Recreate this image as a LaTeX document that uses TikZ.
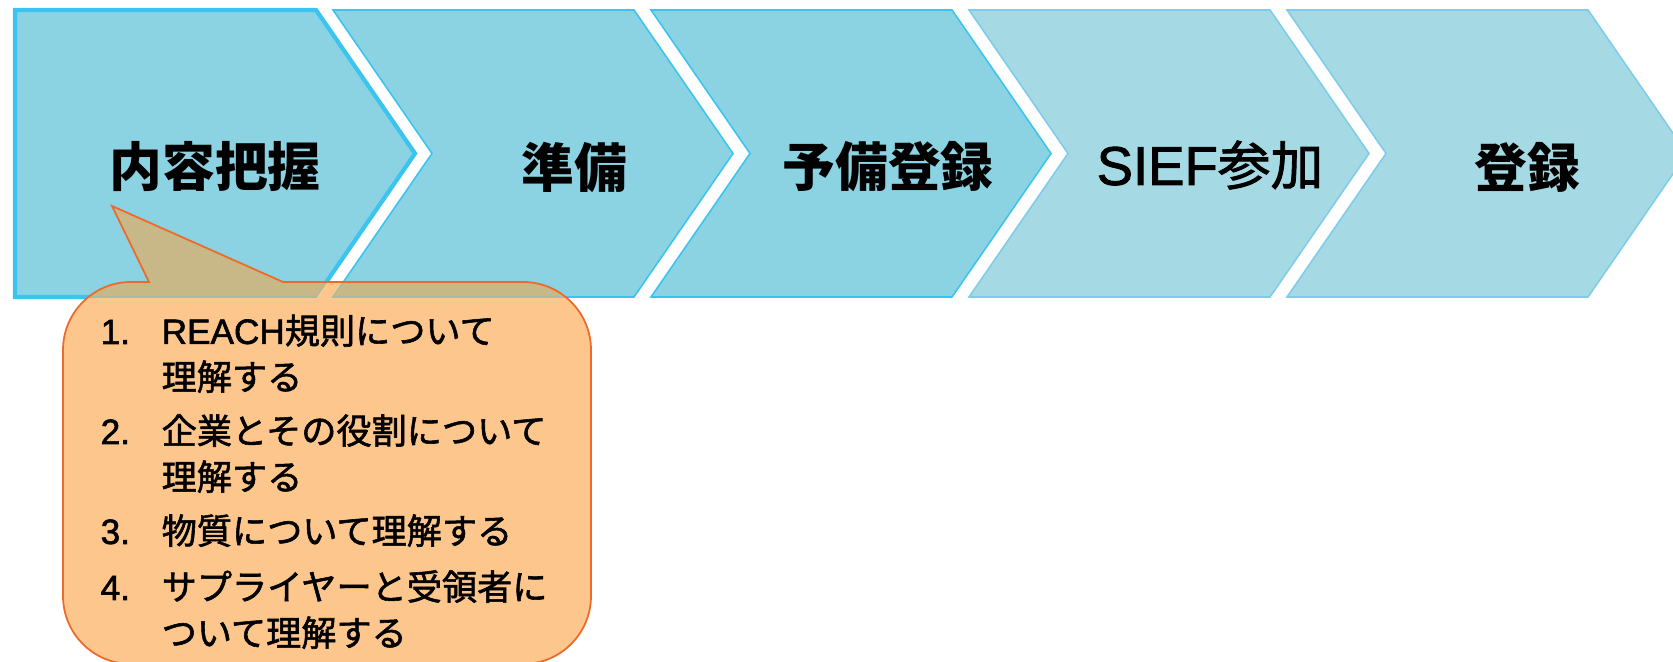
\documentclass[tikz,border=0pt]{standalone}
\usepackage{fontspec}
\setmainfont{Liberation Sans}
\newfontfamily\jp{Noto Sans CJK JP}
\newfontfamily\jpmed[FakeBold=1.6]{Noto Sans CJK JP}
\newfontfamily\latmed[FakeBold=1.6]{Liberation Sans}
\newcommand\lat[1]{{\latmed #1}}
\definecolor{stepfill}{HTML}{8BD3E3}
\definecolor{stepfilllight}{HTML}{A5DAE4}
\definecolor{stepline}{HTML}{3BC4EF}
\definecolor{steplinelight}{HTML}{7FCCEA}
\definecolor{calloutfill}{HTML}{FDC68C}
\definecolor{calloutline}{HTML}{EE6A2B}
\definecolor{overlapfill}{HTML}{C8B887}
\definecolor{overlapline}{HTML}{A9BC9E}
\tikzset{
  firststep/.style={fill=stepfill,draw=stepline,line width=1.2pt},
  stepshape/.style={fill=stepfill,draw=stepline,line width=0.45pt},
  laterstep/.style={fill=stepfilllight,draw=steplinelight,line width=0.45pt},
  overlap/.style={fill=overlapfill,draw=overlapline,line width=0.45pt},
  steptext/.style={font=\jp\fontsize{15}{18}\selectfont\bfseries,text=black},
  itemnum/.style={anchor=base west,inner sep=0pt,font=\latmed\fontsize{10}{13.1}\selectfont},
  itemtext/.style={anchor=base west,inner sep=0pt,align=left,font=\jpmed\fontsize{10}{13.1}\selectfont}
}
\begin{document}
\begin{tikzpicture}[x=0.01cm,y=-0.01cm]
  \useasboundingbox (0,0) rectangle (1673,662);
  % process steps
  \def\chevA{(15,10) -- (316,10) -- (415,153.5) -- (316,297) -- (15,297) -- cycle}
  \def\chevB{(333,10) -- (634,10) -- (733,153.5) -- (634,297) -- (333,297) -- (432,153.5) -- cycle}
  \def\chevC{(651,10) -- (952,10) -- (1051,153.5) -- (952,297) -- (651,297) -- (750,153.5) -- cycle}
  \def\chevD{(969,10) -- (1270,10) -- (1369,153.5) -- (1270,297) -- (969,297) -- (1068,153.5) -- cycle}
  \def\chevE{(1287,10) -- (1588,10) -- (1687,153.5) -- (1588,297) -- (1287,297) -- (1386,153.5) -- cycle}
  \path[firststep] \chevA;
  \path[stepshape] \chevB;
  \path[stepshape] \chevC;
  \path[laterstep] \chevD;
  \path[laterstep] \chevE;
  \node[steptext] (know) at (215,167) {内容把握};
  \node[steptext] (prep) at (574,167) {準備};
  \node[steptext] (prereg) at (888,167) {予備登録};
  \node[steptext,font=\jpmed\fontsize{15}{18}\selectfont] (sief) at (1210,165) {{\latmed\fontsize{15.5}{18}\selectfont SIEF}参加};
  \node[steptext] (reg) at (1527,167) {登録};
  % callout
  \def\calloutshape{(149,282) -- (112,206) -- (283,282) -- (523,282) arc (270:360:68) -- (591,596) arc (0:90:68) -- (131,664) arc (90:180:68) -- (63,350) arc (180:270:68) -- cycle}
  \path[fill=calloutfill] \calloutshape;
  \begin{scope}
    \clip \calloutshape;
    \path[overlap] \chevA;
    \path[overlap] \chevB;
  \end{scope}
  \draw[calloutline,line width=0.5pt] \calloutshape;
  \node[itemnum] (n1) at (100,344) {1.};
  \node[itemtext] (t1) at (161,390) {\lat{REACH}規則について\\理解する};
  \node[itemnum] (n2) at (100,444) {2.};
  \node[itemtext] (t2) at (161,490) {企業とその役割について\\理解する};
  \node[itemnum] (n3) at (100,544) {3.};
  \node[itemtext] (t3) at (161,544) {物質について理解する};
  \node[itemnum] (n4) at (100,600) {4.};
  \node[itemtext] (t4) at (161,646) {サプライヤーと受領者に\\ついて理解する};
\end{tikzpicture}
\end{document}
